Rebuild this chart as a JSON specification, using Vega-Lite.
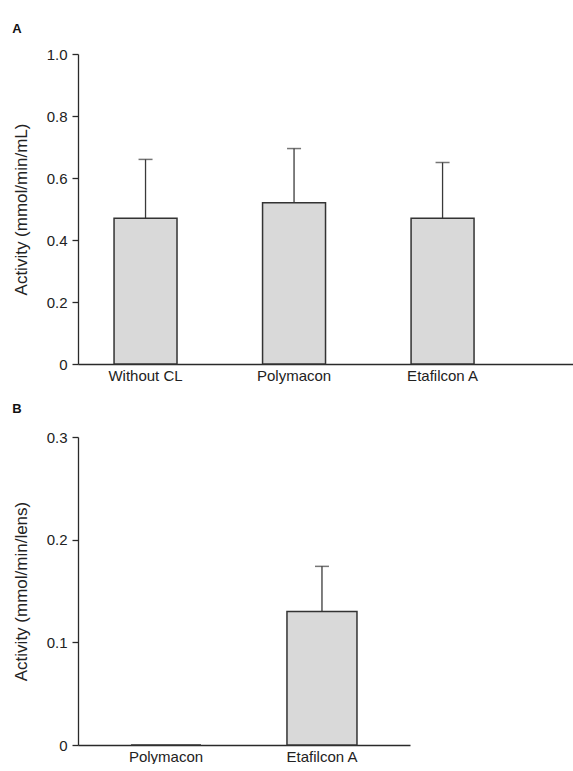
{
  "$schema": "https://vega.github.io/schema/vega-lite/v6.json",
  "background": "white",
  "padding": {"left": 12, "top": 23, "right": 0, "bottom": 0},
  "spacing": 20,
  "config": {
    "view": {"stroke": null},
    "font": "Liberation Sans",
    "axis": {
      "grid": false,
      "domainColor": "#2a2a2a",
      "domainWidth": 1.3,
      "tickColor": "#2a2a2a",
      "tickWidth": 1.3,
      "labelColor": "#222",
      "titleColor": "#222",
      "labelFont": "Liberation Sans",
      "titleFont": "Liberation Sans",
      "labelFontSize": 15,
      "titleFontSize": 17,
      "titleFontWeight": "normal"
    },
    "title": {"font": "Liberation Sans", "fontSize": 13, "fontWeight": "bold", "anchor": "start", "frame": "bounds", "color": "#111", "offset": 14}
  },
  "datasets": {
    "rows": [
      {"panel": "A", "material": "Without CL", "activity": 0.47, "upper": 0.66},
      {"panel": "A", "material": "Polymacon", "activity": 0.52, "upper": 0.695},
      {"panel": "A", "material": "Etafilcon A", "activity": 0.47, "upper": 0.65},
      {"panel": "B", "material": "Polymacon", "activity": 0, "upper": null},
      {"panel": "B", "material": "Etafilcon A", "activity": 0.13, "upper": 0.174}
    ]
  },
  "vconcat": [
    {
      "title": {"text": "A", "offset": 11},
      "width": 495,
      "height": 310,
      "data": {"name": "rows"},
      "transform": [{"filter": "datum.panel === 'A'"}],
      "encoding": {
        "x": {
          "field": "material", "type": "nominal", "sort": ["Without CL", "Polymacon", "Etafilcon A"],
          "scale": {"paddingInner": 0.576, "paddingOuter": 0.4545, "align": 0.267},
          "axis": {"title": null, "labelAngle": 0, "ticks": false, "labelPadding": 4}
        }
      },
      "layer": [
        {
          "mark": {"type": "rule", "color": "#3a3a3a", "strokeWidth": 1.3},
          "encoding": {
            "y": {"field": "activity", "type": "quantitative"},
            "y2": {"field": "upper"}
          }
        },
        {
          "mark": {"type": "tick", "orient": "horizontal", "size": 14, "thickness": 1.5, "color": "#3a3a3a"},
          "encoding": {"y": {"field": "upper", "type": "quantitative"}}
        },
        {
          "mark": {"type": "bar", "fill": "#d9d9d9", "stroke": "#333", "strokeWidth": 1.5},
          "encoding": {
            "y": {
              "field": "activity", "type": "quantitative",
              "scale": {"domain": [0, 1], "nice": false},
              "axis": {
                "title": "Activity (mmol/min/mL)", "values": [0, 0.2, 0.4, 0.6, 0.8, 1.0],
                "labelExpr": "datum.value == 0 ? '0' : format(datum.value, '.1f')",
                "tickSize": 6, "labelPadding": 5, "titlePadding": 16
              }
            }
          }
        }
      ]
    },
    {
      "title": {"text": "B", "offset": 14},
      "width": 332,
      "height": 308,
      "data": {"name": "rows"},
      "transform": [{"filter": "datum.panel === 'B'"}],
      "encoding": {
        "x": {
          "field": "material", "type": "nominal", "sort": ["Polymacon", "Etafilcon A"],
          "scale": {"paddingInner": 0.551, "paddingOuter": 0.34},
          "axis": {"title": null, "labelAngle": 0, "ticks": false, "labelPadding": 4}
        }
      },
      "layer": [
        {
          "transform": [{"filter": "datum.upper != null"}],
          "mark": {"type": "rule", "color": "#3a3a3a", "strokeWidth": 1.3},
          "encoding": {
            "y": {"field": "activity", "type": "quantitative"},
            "y2": {"field": "upper"}
          }
        },
        {
          "transform": [{"filter": "datum.upper != null"}],
          "mark": {"type": "tick", "orient": "horizontal", "size": 14, "thickness": 1.5, "color": "#3a3a3a"},
          "encoding": {"y": {"field": "upper", "type": "quantitative"}}
        },
        {
          "mark": {"type": "bar", "fill": "#d9d9d9", "stroke": "#333", "strokeWidth": 1.5},
          "encoding": {
            "y": {
              "field": "activity", "type": "quantitative",
              "scale": {"domain": [0, 0.3], "nice": false},
              "axis": {
                "title": "Activity (mmol/min/lens)", "values": [0, 0.1, 0.2, 0.3],
                "labelExpr": "datum.value == 0 ? '0' : format(datum.value, '.1f')",
                "tickSize": 6, "labelPadding": 5, "titlePadding": 16
              }
            }
          }
        }
      ]
    }
  ]
}
